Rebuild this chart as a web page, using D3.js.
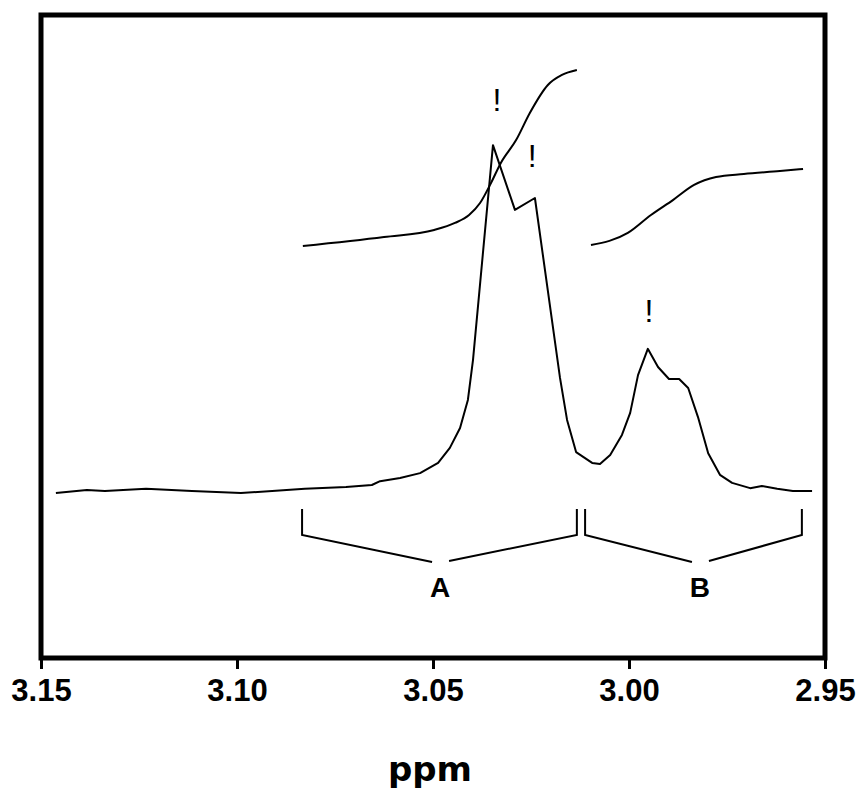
<!DOCTYPE html>
<html>
<head>
<meta charset="utf-8">
<script src="https://cdn.jsdelivr.net/npm/d3@7"></script>
<style>
  body { margin: 0; background: #fff; }
  svg { display: block; }
</style>
</head>
<body>
<div id="chart"></div>
<script>
// Spectrum trace: chemical shift (ppm) and relative intensity
var specPpm = [3.1462, 3.1383, 3.1337, 3.1232, 3.1115, 3.0990, 3.0827, 3.0722, 3.0656, 3.0635,
  3.0584, 3.0533, 3.0487, 3.0457, 3.0431, 3.0411, 3.0398, 3.0347, 3.0291, 3.0240,
  3.0176, 3.0158, 3.0135, 3.0094, 3.0074, 3.0048, 3.0018, 2.9997, 2.9977, 2.9952,
  2.9926, 2.9898, 2.9872, 2.9849, 2.9824, 2.9798, 2.9768, 2.9737, 2.9691, 2.9661,
  2.9622, 2.9582, 2.9533];
var specInt = [-0.3, 0.6, 0.3, 0.9, 0.3, -0.3, 0.9, 1.4, 2.0, 3.1,
  4.0, 5.4, 8.3, 12.6, 18.3, 26.3, 37.7, 99.1, 80.6, 84.0,
  32.6, 20.6, 11.4, 8.3, 8.0, 10.6, 16.3, 22.6, 33.4, 40.9,
  35.7, 32.3, 32.3, 29.7, 21.4, 11.1, 4.9, 2.6, 1.1, 1.7,
  0.9, 0.3, 0.3];

// Integral curves (percent of integral A)
var intAPpm = [3.0832, 3.0625, 3.0497, 3.0444, 3.0408, 3.0380, 3.0352, 3.0327, 3.0288, 3.0253, 3.0207, 3.0171, 3.0133];
var intAVal = [0, 5.1, 9.1, 13.1, 17.6, 24.4, 35.8, 47.2, 60.2, 75.6, 91.5, 97.2, 100];
var intBPpm = [3.0097, 3.0003, 2.9944, 2.9888, 2.9834, 2.9778, 2.9707, 2.9615, 2.9556];
var intBVal = [0.6, 7.4, 17.6, 26.1, 34.7, 39.2, 40.9, 42.6, 43.8];

// Peak markers
var markerPpm = [3.0337, 3.0247, 2.9949];
var markerLevel = [109, 93, 48.6];

// Integration regions
var regionLabels = ["A", "B"];
var regionStart = [3.0834, 3.0112];
var regionEnd = [3.0133, 2.9559];
var regionMid = [3.0482, 2.9819];

// Axis ticks
var tickValues = [3.15, 3.10, 3.05, 3.00, 2.95];

var svgWidth = 856;
var svgHeight = 790;

var svg = d3.select("#chart")
  .append("svg")
  .attr("width", svgWidth)
  .attr("height", svgHeight);

svg.append("rect")
  .attr("width", svgWidth)
  .attr("height", svgHeight)
  .attr("fill", "#fff");

// Scales
var x = d3.scaleLinear().domain([3.15, 2.95]).range([41, 825]);
var y = d3.scaleLinear().domain([0, 100]).range([492, 142]);
var yInt = d3.scaleLinear().domain([0, 100]).range([246, 70]);

// Frame
svg.append("rect")
  .attr("x", 41)
  .attr("y", 15)
  .attr("width", 784)
  .attr("height", 643)
  .attr("fill", "none")
  .attr("stroke", "#000")
  .attr("stroke-width", 5);

// Bottom axis
var xAxis = d3.axisBottom(x)
  .tickValues(tickValues)
  .tickSize(11)
  .tickFormat(d3.format(".2f"));

var axisG = svg.append("g")
  .attr("transform", "translate(0,658)")
  .call(xAxis);

axisG.select(".domain").remove();
axisG.selectAll(".tick line")
  .attr("stroke", "#000")
  .attr("stroke-width", 3);
axisG.selectAll(".tick text")
  .attr("y", 43)
  .attr("dy", 0)
  .attr("fill", "#000")
  .style("font-family", "'Liberation Sans', Arial, sans-serif")
  .style("font-weight", "bold")
  .style("font-size", "31px");

// Axis title
svg.append("text")
  .attr("x", 430)
  .attr("y", 781)
  .attr("text-anchor", "middle")
  .style("font-family", "'DejaVu Sans', sans-serif")
  .style("font-weight", "bold")
  .style("font-size", "34px")
  .text("ppm");

// Spectrum
var specData = specPpm.map(function(p, i) { return { ppm: p, v: specInt[i] }; });
var line = d3.line()
  .x(function(d) { return x(d.ppm); })
  .y(function(d) { return y(d.v); });

svg.append("path")
  .datum(specData)
  .attr("d", line)
  .attr("fill", "none")
  .attr("stroke", "#000")
  .attr("stroke-width", 2)
  .attr("stroke-linejoin", "round");

// Integrals
var intLine = d3.line()
  .curve(d3.curveMonotoneX)
  .x(function(d) { return x(d.ppm); })
  .y(function(d) { return yInt(d.v); });

[[intAPpm, intAVal], [intBPpm, intBVal]].forEach(function(pair) {
  var data = pair[0].map(function(p, i) { return { ppm: p, v: pair[1][i] }; });
  data.reverse();
  svg.append("path")
    .datum(data)
    .attr("d", intLine)
    .attr("fill", "none")
    .attr("stroke", "#000")
    .attr("stroke-width", 2);
});

// Peak markers
svg.selectAll(".marker")
  .data(markerPpm)
  .enter()
  .append("text")
  .attr("class", "marker")
  .attr("x", function(d) { return x(d); })
  .attr("y", function(d, i) { return y(markerLevel[i]); })
  .attr("text-anchor", "middle")
  .style("font-family", "'Liberation Sans', Arial, sans-serif")
  .style("font-size", "32px")
  .text("!");

// Region brackets
regionLabels.forEach(function(label, i) {
  var x0 = x(regionStart[i]);
  var x1 = x(regionEnd[i]);
  var xm = x(regionMid[i]);
  var p = d3.path();
  p.moveTo(x0, 509);
  p.lineTo(x0, 535);
  p.lineTo(xm - 8, 562);
  p.moveTo(xm + 9, 561);
  p.lineTo(x1, 535);
  p.lineTo(x1, 509);
  svg.append("path")
    .attr("d", p.toString())
    .attr("fill", "none")
    .attr("stroke", "#000")
    .attr("stroke-width", 2);

  svg.append("text")
    .attr("x", xm)
    .attr("y", 597)
    .attr("text-anchor", "middle")
    .style("font-family", "'Liberation Sans', Arial, sans-serif")
    .style("font-weight", "bold")
    .style("font-size", "28px")
    .text(label);
});
</script>
</body>
</html>
